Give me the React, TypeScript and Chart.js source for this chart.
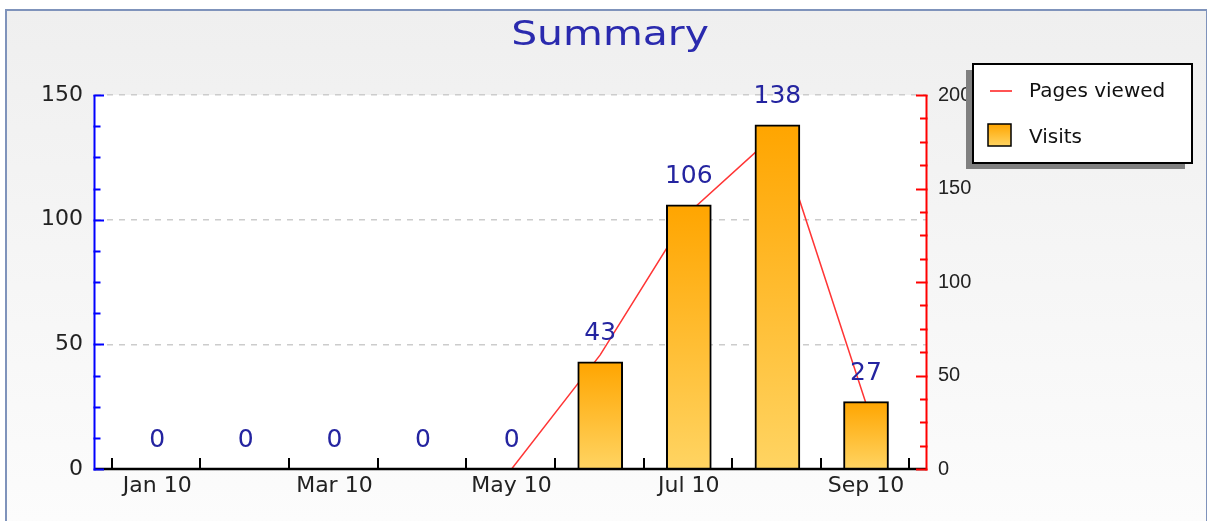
import React, { useEffect, useRef } from 'react';
import { Chart, registerables } from 'chart.js';

Chart.register(...registerables);

// ---- data ----
const MONTHS = ['Jan 10', 'Feb 10', 'Mar 10', 'Apr 10', 'May 10', 'Jun 10', 'Jul 10', 'Aug 10', 'Sep 10'];
const VISITS = [0, 0, 0, 0, 0, 43, 106, 138, 27];
const PAGES_VIEWED = [0, 0, 0, 0, 0, 61, 137, 180, 35];
const LEFT_TICKS = [0, 12.5, 25, 37.5, 50, 62.5, 75, 87.5, 100, 112.5, 125, 137.5, 150];
const RIGHT_TICKS = [0, 12.5, 25, 37.5, 50, 62.5, 75, 87.5, 100, 112.5, 125, 137.5, 150, 162.5, 175, 187.5, 200];
const LEFT_MAJOR = 50;
const RIGHT_MAJOR = 50;
const TITLE = 'Summary';
const LEGEND_LINE = 'Pages viewed';
const LEGEND_BAR = 'Visits';

// ---- layout / style ----
const W = 1207;
const H = 521;
const X_MIN = -0.702;
const X_MAX = 8.677;
const FONT = '"DejaVu Sans", sans-serif';
const BAR_TOP = '#ffa500';
const BAR_BOTTOM = '#ffd462';
const LINE_RED = '#ff3535';
const LABEL_BLUE = '#2424a0';

function barGradient(c: CanvasRenderingContext2D, top: number, bottom: number) {
  const g = c.createLinearGradient(0, top, 0, bottom);
  g.addColorStop(0, BAR_TOP);
  g.addColorStop(1, BAR_BOTTOM);
  return g;
}

const decorPlugin = {
  id: 'decor',
  beforeDraw(chart: any) {
    const { ctx, chartArea: a } = chart;
    ctx.save();
    ctx.fillStyle = '#ffffff';
    ctx.fillRect(a.left, a.top, a.right - a.left, a.bottom - a.top);
    ctx.restore();
  },
  afterDatasetsDraw(chart: any) {
    const { ctx, chartArea: a, scales } = chart;
    const xs = scales.x;
    const yl = scales.y;
    const yr = scales.y2;
    ctx.save();
    // x axis line
    ctx.strokeStyle = '#000';
    ctx.lineWidth = 2.5;
    ctx.beginPath();
    ctx.moveTo(a.left, a.bottom);
    ctx.lineTo(a.right, a.bottom);
    ctx.stroke();
    // x tick marks at category boundaries
    ctx.lineWidth = 2;
    for (let i = 0; i <= MONTHS.length; i++) {
      const px = Math.round(xs.getPixelForValue(i - 0.5)) - 1;
      ctx.beginPath();
      ctx.moveTo(px, a.bottom);
      ctx.lineTo(px, a.bottom - 11);
      ctx.stroke();
    }
    // left axis
    ctx.strokeStyle = '#0000ff';
    ctx.beginPath();
    ctx.moveTo(a.left - 0.5, a.top);
    ctx.lineTo(a.left - 0.5, a.bottom + 1.5);
    ctx.stroke();
    LEFT_TICKS.forEach((v) => {
      const py = Math.round(yl.getPixelForValue(v)) + 0.5;
      const len = v % LEFT_MAJOR === 0 ? 9 : 5.5;
      ctx.beginPath();
      ctx.moveTo(a.left - 1.5, py);
      ctx.lineTo(a.left + len, py);
      ctx.stroke();
    });
    // right axis
    ctx.strokeStyle = '#ff0000';
    ctx.beginPath();
    ctx.moveTo(a.right + 0.5, a.top);
    ctx.lineTo(a.right + 0.5, a.bottom + 1.5);
    ctx.stroke();
    RIGHT_TICKS.forEach((v) => {
      const py = Math.round(yr.getPixelForValue(v)) + 0.5;
      const len = v % RIGHT_MAJOR === 0 ? 10 : 6;
      ctx.beginPath();
      ctx.moveTo(a.right + 1.5, py);
      ctx.lineTo(a.right - len, py);
      ctx.stroke();
    });
    // value labels above bars
    const meta = chart.getDatasetMeta(0);
    ctx.fillStyle = LABEL_BLUE;
    ctx.font = '25px ' + FONT;
    ctx.textAlign = 'center';
    ctx.textBaseline = 'alphabetic';
    meta.data.forEach((el: any, i: number) => {
      ctx.fillText(String(VISITS[i]), el.x, el.y - 22);
    });
    ctx.restore();
  },
  afterDraw(chart: any) {
    const { ctx } = chart;
    ctx.save();
    // title
    ctx.fillStyle = '#2a2aae';
    ctx.font = '33px ' + FONT;
    ctx.textAlign = 'center';
    ctx.textBaseline = 'alphabetic';
    ctx.translate(610, 44.5);
    ctx.scale(1.24, 1);
    ctx.fillText(TITLE, 0, 0);
    ctx.restore();

    // legend
    ctx.save();
    const bx = 973, by = 64, bw = 219, bh = 99;
    ctx.fillStyle = '#808080';
    ctx.fillRect(bx - 7, by + 6, bw, bh);
    ctx.fillStyle = '#ffffff';
    ctx.fillRect(bx, by, bw, bh);
    ctx.strokeStyle = '#000';
    ctx.lineWidth = 2;
    ctx.strokeRect(bx, by, bw, bh);
    ctx.strokeStyle = LINE_RED;
    ctx.lineWidth = 1.7;
    ctx.beginPath();
    ctx.moveTo(990, 91);
    ctx.lineTo(1012, 91);
    ctx.stroke();
    ctx.fillStyle = barGradient(ctx, 124, 146);
    ctx.fillRect(988, 124, 23, 22);
    ctx.strokeStyle = '#000';
    ctx.lineWidth = 1.5;
    ctx.strokeRect(988, 124, 23, 22);
    ctx.fillStyle = '#111';
    ctx.font = '20px ' + FONT;
    ctx.textAlign = 'left';
    ctx.textBaseline = 'alphabetic';
    ctx.fillText(LEGEND_LINE, 1029, 97);
    ctx.fillText(LEGEND_BAR, 1029, 143);
    ctx.restore();
  },
};

export default function App() {
  const ref = useRef<HTMLCanvasElement | null>(null);

  useEffect(() => {
    if (!ref.current) return;
    const chart = new Chart(ref.current, {
      type: 'bar',
      data: {
        datasets: [
          {
            type: 'bar',
            label: LEGEND_BAR,
            data: VISITS.map((v, i) => ({ x: i, y: v })),
            xAxisID: 'x',
            yAxisID: 'y',
            barThickness: 45,
            borderColor: '#000000',
            borderWidth: 2,
            order: 0,
            backgroundColor: (c: any) => {
              const chart = c.chart;
              if (!chart.chartArea || c.type !== 'data' || !c.parsed) return BAR_TOP;
              const ys = chart.scales.y;
              const top = ys.getPixelForValue(c.parsed.y);
              const bottom = ys.getPixelForValue(0);
              if (Math.abs(bottom - top) < 1) return BAR_TOP;
              return barGradient(chart.ctx, top, bottom);
            },
          } as any,
          {
            type: 'line',
            label: LEGEND_LINE,
            data: PAGES_VIEWED.map((v, i) => ({ x: i, y: v })),
            xAxisID: 'x',
            yAxisID: 'y2',
            borderColor: LINE_RED,
            borderWidth: 1.5,
            pointRadius: 0,
            tension: 0,
            fill: false,
            order: 1,
          } as any,
        ],
      },
      options: {
        responsive: false,
        animation: false,
        devicePixelRatio: 1,
        layout: { padding: { top: 95, left: 0, right: 0, bottom: 0 } },
        plugins: {
          legend: { display: false },
          title: { display: false },
          tooltip: { enabled: false },
        },
        scales: {
          x: {
            type: 'linear',
            position: 'bottom',
            min: X_MIN,
            max: X_MAX,
            offset: false,
            afterBuildTicks: (s: any) => {
              s.ticks = MONTHS.map((_, i) => ({ value: i }));
            },
            afterFit: (s: any) => {
              s.height = H - 469;
            },
            grid: { display: true, drawOnChartArea: false, drawTicks: false, offset: false },
            border: { display: false },
            ticks: {
              autoSkip: false,
              maxRotation: 0,
              padding: 4,
              color: '#222',
              font: { family: FONT, size: 22 },
              callback: (_v: any, i: number) => (i % 2 === 0 ? MONTHS[i] : ''),
            },
          },
          y: {
            type: 'linear',
            position: 'left',
            min: 0,
            max: 150,
            afterBuildTicks: (s: any) => {
              s.ticks = LEFT_TICKS.map((v) => ({ value: v }));
            },
            afterFit: (s: any) => {
              s.width = 95;
            },
            grid: {
              drawTicks: false,
              lineWidth: 1.5,
              color: (c: any) =>
                c.tick && c.tick.value > 0 && c.tick.value % LEFT_MAJOR === 0 ? '#cccccc' : 'rgba(0,0,0,0)',
            },
            border: { display: false, dash: [6, 6] },
            ticks: {
              autoSkip: false,
              padding: 12,
              color: '#222',
              font: { family: FONT, size: 22 },
              callback: (v: any) => (v % LEFT_MAJOR === 0 ? String(v) : ''),
            },
          },
          y2: {
            type: 'linear',
            position: 'right',
            min: 0,
            max: 200,
            afterBuildTicks: (s: any) => {
              s.ticks = RIGHT_TICKS.map((v) => ({ value: v }));
            },
            afterFit: (s: any) => {
              s.width = W - 926;
            },
            grid: { drawOnChartArea: false, drawTicks: false },
            border: { display: false },
            ticks: {
              autoSkip: false,
              padding: 12,
              color: '#222',
              font: { family: '"Liberation Sans", sans-serif', size: 20 },
              callback: (v: any) => (v % RIGHT_MAJOR === 0 ? String(v) : ''),
            },
          },
        },
      } as any,
      plugins: [decorPlugin],
    });
    return () => chart.destroy();
  }, []);

  return (
    <div
      style={{
        position: 'fixed',
        left: 0,
        top: 0,
        width: W,
        height: H,
        overflow: 'hidden',
        background: '#ffffff',
      }}
    >
      <div
        style={{
          position: 'absolute',
          left: 5,
          top: 9,
          width: 1199,
          height: 560,
          border: '2px solid #7f93bb',
          background: 'linear-gradient(to bottom, #efefef 0px, #fcfcfc 512px, #fdfdfd 560px)',
        }}
      />
      <canvas
        ref={ref}
        width={W}
        height={H}
        style={{ position: 'absolute', left: 0, top: 0, width: W, height: H, display: 'block' }}
      />
    </div>
  );
}
